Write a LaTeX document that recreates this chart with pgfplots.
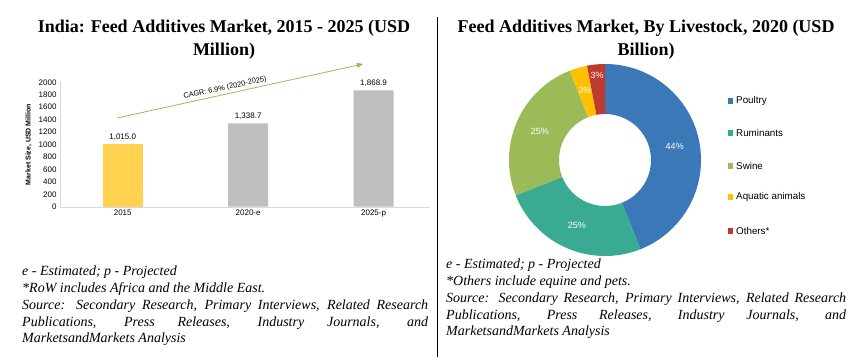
\documentclass[border=0pt]{standalone}
\usepackage{fontspec}
\setmainfont{Liberation Serif}
\setsansfont{Liberation Sans}
\usepackage{pgfplots}
\pgfplotsset{compat=1.18}
\usetikzlibrary{arrows.meta}
\definecolor{baryellow}{HTML}{FFD24F}
\definecolor{bargrey}{HTML}{BFBFBF}
\definecolor{cagr}{HTML}{9BBB59}
\definecolor{cpoultry}{HTML}{3A78B7}
\definecolor{cruminants}{HTML}{3AAA92}
\definecolor{cswine}{HTML}{9BBB59}
\definecolor{caquatic}{HTML}{FFC000}
\definecolor{cothers}{HTML}{BE3A31}

\newcommand\donutslice[5]{% cumulative pct, pct, colour, label radius, label
  \pgfmathsetmacro\sa{90-3.6*#1}%
  \pgfmathsetmacro\ea{90-3.6*(#1+#2)}%
  \pgfmathsetmacro\ma{(\sa+\ea)/2}%
  \edef\tmp{\noexpand\fill[#3] (axis cs:{96*cos(\sa)},{96*sin(\sa)}) arc[start angle=\sa, end angle=\ea, radius=96pt]
    -- (axis cs:{46*cos(\ea)},{46*sin(\ea)}) arc[start angle=\ea, end angle=\sa, radius=46pt] -- cycle;
    \noexpand\node[text=white, font=\noexpand\fontsize{9}{10}\noexpand\selectfont\noexpand\sffamily] at (axis cs:{#4*cos(\ma)},{#4*sin(\ma)}) {#5};}%
  \tmp
}

\begin{document}
\begin{tikzpicture}[x=1pt,y=1pt]
\useasboundingbox (0,0) rectangle (866,357);
\fill[white] (0,0) rectangle (866,357);

% titles
\node[font=\fontsize{18}{23}\selectfont\bfseries, align=center] at (224,317.5) {India: Feed Additives Market, 2015 - 2025 (USD\\Million)};
\node[font=\fontsize{18}{23}\selectfont\bfseries, align=center] at (646,317.5) {Feed Additives Market, By Livestock, 2020 (USD\\Billion)};

% separator
\draw[black, line width=0.8pt] (437,0) -- (437,340);

% bar chart
\begin{axis}[at={(60pt,150.3pt)}, anchor=south west, scale only axis,
  width=370pt, height=124.4pt,
  xmin=-0.5, xmax=2.45, ymin=0, ymax=2000,
  axis x line=bottom, axis y line=left,
  axis line style={draw=black!15, -},
  xtick={0,1,2}, xticklabels={2015,2020-e,2025-p},
  ytick={0,200,...,2000},
  major tick length=0,
  /pgf/number format/assume math mode=true,
  yticklabel style={/pgf/number format/1000 sep={}},
  tick label style={font=\fontsize{8}{9}\selectfont\sffamily},
  ylabel={Market Size, USD Million},
  ylabel style={font=\fontsize{7}{8}\selectfont\sffamily\bfseries},
  ybar, bar width=40pt, bar shift=0pt,
  nodes near coords={\pgfmathprintnumber[fixed,fixed zerofill,precision=1,1000 sep={,},assume math mode=true]{\pgfplotspointmeta}},
  every node near coord/.append style={font=\fontsize{8}{9}\selectfont\sffamily, text=black},
]
\addplot[fill=baryellow, draw=none] coordinates {(0,1015.0)};
\addplot[fill=bargrey, draw=none] coordinates {(1,1338.7) (2,1868.9)};
\end{axis}

% CAGR arrow
\draw[cagr, line width=0.8pt, -{Triangle[length=6pt,width=5pt]}] (117,239) -- (363,293);
\node[rotate=12.4, font=\fontsize{7.4}{8}\selectfont\sffamily] at (225,269) {CAGR: 6.9\% (2020-2025)};

% donut chart
\begin{axis}[at={(605pt,197pt)}, anchor=origin, scale only axis,
  width=200pt, height=200pt, xmin=-100, xmax=100, ymin=-100, ymax=100,
  hide axis, clip=false]
\addplot[draw=none] coordinates {(0,0)};
\donutslice{0}{44}{cpoultry}{71}{44\noexpand\%}
\donutslice{44}{25}{cruminants}{71}{25\noexpand\%}
\donutslice{69}{25}{cswine}{71}{25\noexpand\%}
\donutslice{94}{3}{caquatic}{72}{3\noexpand\%}
\donutslice{97}{3}{cothers}{85}{3\noexpand\%}
\end{axis}

% legend
\foreach \c/\t/\y in {cpoultry/Poultry/101, cruminants/Ruminants/133, cswine/Swine/166, caquatic/Aquatic animals/197, cothers/Others*/231}{
  \fill[\c] (727.5,357-\y-2.75) rectangle ++(5.5,5.5);
  \node[anchor=west, inner sep=0, font=\fontsize{9.8}{11}\selectfont\sffamily] at (736,357-\y) {\t};
}

% footnotes
\node[anchor=north west, inner sep=0, text width=406pt, align=justify, font=\fontsize{14}{16.7}\selectfont\itshape] at (22,357-266) {e - Estimated; p - Projected\par
*RoW includes Africa and the Middle East.\par
Source: Secondary Research, Primary Interviews, Related Research\linebreak Publications, Press Releases, Industry Journals, and\linebreak MarketsandMarkets Analysis};
\node[anchor=north west, inner sep=0, text width=400pt, align=justify, font=\fontsize{14}{16.7}\selectfont\itshape] at (446,357-259) {e - Estimated; p - Projected\par
*Others include equine and pets.\par
Source: Secondary Research, Primary Interviews, Related Research\linebreak Publications, Press Releases, Industry Journals, and\linebreak MarketsandMarkets Analysis};
\end{tikzpicture}
\end{document}
